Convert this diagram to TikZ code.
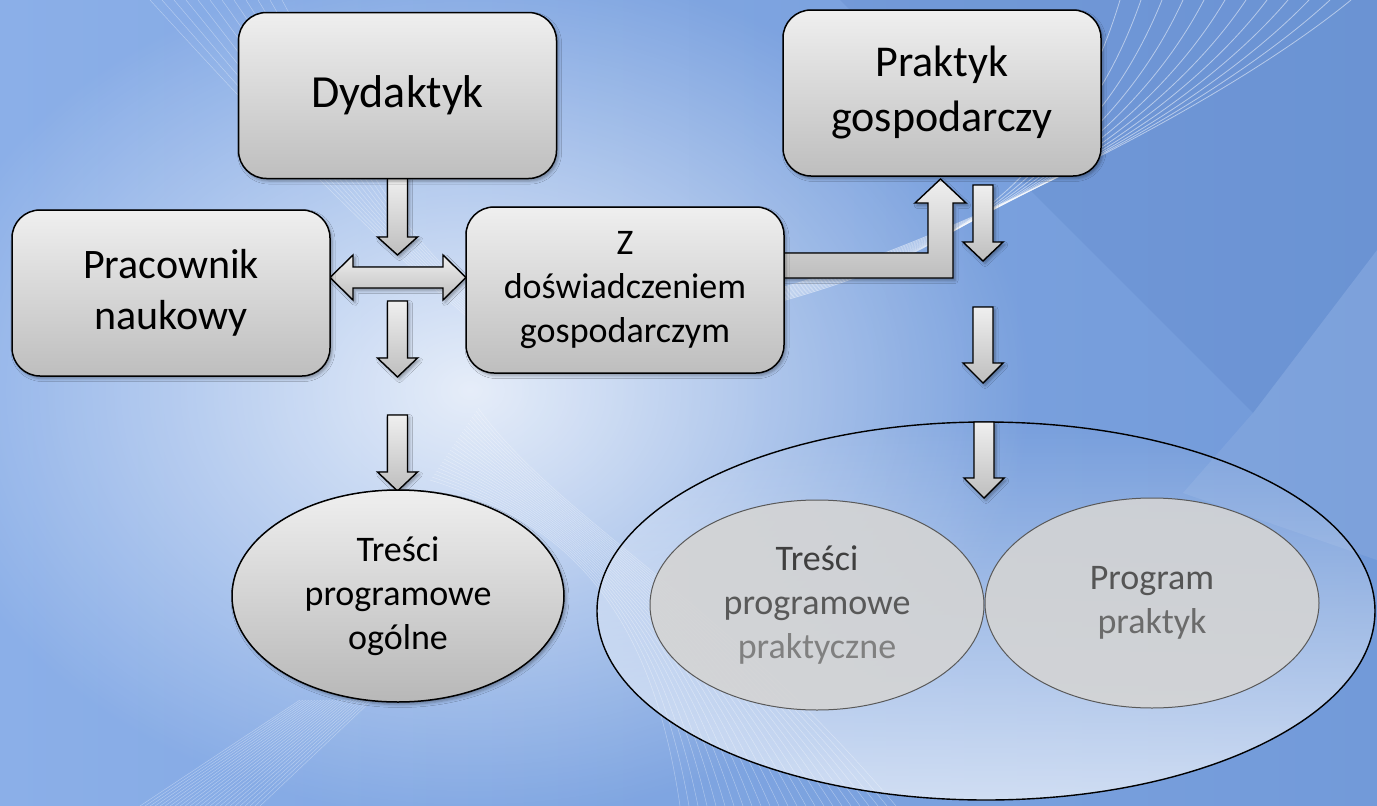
\documentclass[tikz,border=0pt]{standalone}
\usepackage{fontspec}
\setmainfont{Carlito}
\usetikzlibrary{shapes.geometric,shadows.blur,fadings}

\definecolor{bgL}{HTML}{8BAFE8}
\definecolor{bgM}{HTML}{A9C8F3}
\definecolor{bgR}{HTML}{729AD9}
\definecolor{bgDark}{HTML}{4F78BE}
\definecolor{boxT}{HTML}{EFEFEF}
\definecolor{boxB}{HTML}{BEBEBE}
\definecolor{inFill}{HTML}{D4D4D4}

\tikzfading[name=glowfade, inner color=transparent!0, outer color=transparent!100]
\tikzfading[name=bottomglow, top color=transparent!100, bottom color=transparent!35]

\tikzset{
  shade/.style={blur shadow={shadow xshift=2pt, shadow yshift=-2.5pt, shadow blur radius=3pt, shadow opacity=35}},
  boxnode/.style={draw=black, line width=1.5pt, rounded corners=28pt, top color=boxT, bottom color=boxB,
    minimum width=318pt, minimum height=166pt, align=center, inner sep=0pt, text=black, shade},
  ellnode/.style={ellipse, draw=black, line width=1.5pt, top color=boxT, bottom color=boxB!110,
    minimum width=332pt, minimum height=212pt, align=center, inner sep=0pt, shade,
    font=\fontsize{36}{44}\selectfont},
  innernode/.style={ellipse, draw=black!65, line width=1pt, fill=inFill, fill opacity=0.9, text opacity=1,
    minimum width=334pt, minimum height=210pt, align=center, inner sep=0pt,
    font=\fontsize{36}{44}\selectfont},
  blockarrow/.style={draw=black, line width=1.4pt, line join=miter, top color=boxT, bottom color=boxB, shade},
  swoosh/.style={white, line width=0.8pt, opacity=0.5},
  hatch/.style={white, line width=0.5pt, opacity=0.35}
}

\newcommand\arrdown[4]{%
  \path[blockarrow] (#1-10,-#2) -- (#1+10,-#2) -- (#1+10,-#3) -- (#1+20,-#3) -- (#1,-#4)
    -- (#1-20,-#3) -- (#1-10,-#3) -- cycle;}

\begin{document}
\begin{tikzpicture}[x=1pt,y=1pt]
  \useasboundingbox (0,0) rectangle (1377,-806);
  % background
  \shade[left color=bgL, middle color=bgM, right color=bgR] (0,0) rectangle (1377,-806);
  \fill[white, path fading=glowfade, opacity=0.8] (470,-390) ellipse [x radius=560, y radius=430];
  \fill[bgDark, opacity=0.2] (840,0) -- (1377,0) -- (1377,-250) -- (1253,-413) -- cycle;
  \fill[white, opacity=0.08] (1253,-413) -- (1377,-250) -- (1377,-560) -- (1183,-493) -- cycle;
  % swoosh lines
  \foreach \i in {0,...,11}{
    \draw[hatch] (150+\i*12,0) .. controls (260+\i*8,-120) and (380,-250) .. (520+\i*4,-360);
    \draw[swoosh] (740+\i*3,-312+\i*2) .. controls (930,-265+\i*1.5) and (1060+\i*14,-200+\i*8) .. (1120+\i*21,0);
  }
  \foreach \i in {0,...,24}{
    \draw[hatch] (140+\i*5,-806) -- (300+\i*3,-700);
    \draw[hatch] (430+\i*2,-480+\i*3) .. controls (560,-520) and (650+\i*3,-600) .. (680+\i*9,-806);
  }

  % big ellipse
  \fill[white, path fading=bottomglow] (986,-611) ellipse [x radius=389, y radius=189];
  \node[ellipse, draw=black, line width=1.4pt, minimum width=778pt, minimum height=378pt, inner sep=0pt]
    (big) at (986,-611) {};

  % inner ellipses
  \node[innernode] (tpp) at (817,-605) {\textcolor[HTML]{3F3F3F}{Treści}\\
    \textcolor[HTML]{595959}{programowe}\\
    \textcolor[HTML]{808080}{praktyczne}};
  \node[innernode] (prog) at (1152,-603) {\textcolor[HTML]{555555}{Program}\\
    \textcolor[HTML]{6B6B6B}{praktyk}};

  % block arrows
  \arrdown{397.5}{178}{237}{255}
  \arrdown{397.5}{301}{358}{377}
  \arrdown{397.5}{415}{472}{491}
  \arrdown{983}{185}{242}{261}
  \arrdown{983}{307}{363}{383}
  \arrdown{984}{422}{478}{498}
  % double arrow between Pracownik and Z
  \path[blockarrow] (330,-277.5) -- (353,-255) -- (353,-267) -- (443,-267) -- (443,-255) -- (466,-277.5)
    -- (443,-300) -- (443,-288) -- (353,-288) -- (353,-300) -- cycle;
  % elbow arrow to Praktyk
  \path[blockarrow] (782,-253) -- (928,-253) -- (928,-203) -- (915,-203) -- (940.5,-179) -- (966,-203)
    -- (953,-203) -- (953,-278) -- (782,-278) -- cycle;

  % boxes
  \node[boxnode, font=\fontsize{46}{54}\selectfont] (dyd) at (397.5,-95.5) {Dydaktyk};
  \node[boxnode, font=\fontsize{42}{51}\selectfont] (prac) at (171,-293) {Pracownik\\naukowy};
  \node[boxnode, font=\fontsize{36}{44}\selectfont] (zdo) at (625,-290) {Z\\doświadczeniem\\gospodarczym};
  \node[boxnode, font=\fontsize{44}{55}\selectfont] (prak) at (942,-93) {Praktyk\\gospodarczy};

  % general content ellipse
  \node[ellnode] (ogol) at (398,-596) {Treści\\programowe\\ogólne};
\end{tikzpicture}
\end{document}
